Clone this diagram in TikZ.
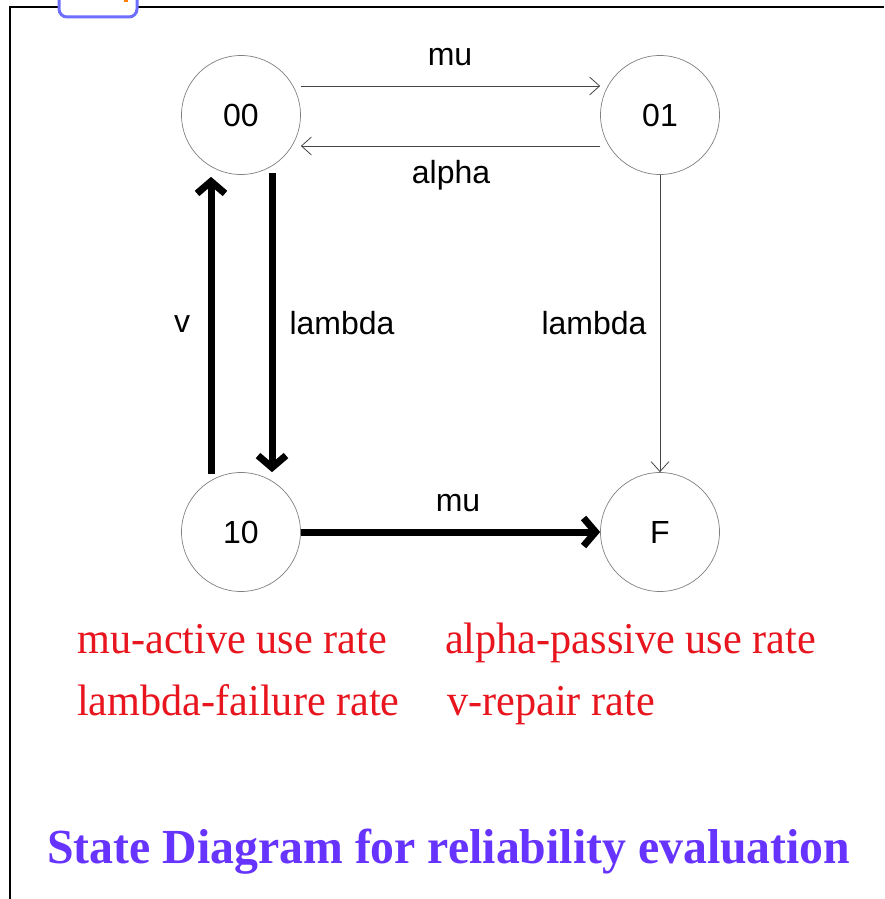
\documentclass[tikz,border=0pt]{standalone}
\usepackage{fontspec}
\usepackage{graphicx}
\setmainfont{Liberation Serif}
\newfontfamily\arialf{Liberation Sans}
\usetikzlibrary{arrows.meta}
\definecolor{legred}{RGB}{232,20,30}
\definecolor{titleblue}{RGB}{102,51,255}
\definecolor{boxblue}{RGB}{110,110,255}
\definecolor{thingray}{RGB}{70,70,70}
\newcommand{\legtxt}[1]{\scalebox{0.96}[1]{#1}}
\newcommand{\ttltxt}[1]{\scalebox{0.975}[1]{#1}}
\begin{document}
\begin{tikzpicture}[x=1pt,y=-1pt,
  state/.style={circle,draw=gray,line width=0.7pt,minimum size=119pt,inner sep=0pt,font=\arialf\fontsize{32}{38}\selectfont},
  thinarrow/.style={draw=thingray,line width=0.8pt,-{Straight Barb[length=10pt,width=18pt]}},
  thickarrow/.style={draw=black,line width=7pt,-{Straight Barb[length=12pt,width=28pt]}},
  lbl/.style={font=\arialf\fontsize{32}{38}\selectfont,inner sep=0pt},
  legend/.style={text=legred,font=\fontsize{44}{50}\selectfont,inner sep=0pt,anchor=base west},
  title/.style={text=titleblue,font=\bfseries\fontsize{49}{56}\selectfont,inner sep=0pt,anchor=base west}]
\useasboundingbox (0,0) rectangle (884,899);
\clip (0,0) rectangle (884,899);
\fill[white] (0,0) rectangle (884,899);
% frame
\draw[line width=2pt] (10,899) -- (10,7.5) -- (884,7.5);
\draw[boxblue,line width=3pt,rounded corners=8pt,fill=white] (59,-20) rectangle (137,17);
\fill[orange] (124,0) rectangle (128,2);
% states
\node[state] (n00) at (241,115) {00};
\node[state] (n01) at (660,115) {01};
\node[state] (n10) at (241,532) {10};
\node[state] (nF) at (660,532) {F};
% thin arrows
\draw[thinarrow] ([yshift=29pt]n00.east) -- ([yshift=29pt]n01.west);
\draw[thinarrow] ([yshift=-31pt]n01.west) -- ([yshift=-31pt]n00.east);
\draw[thinarrow] (n01.south) -- (nF.north);
% thick arrows
\draw[thickarrow] ([xshift=-30pt,yshift=-2pt]n10.north) -- ([xshift=-30pt,yshift=-2pt]n00.south);
\draw[thickarrow] ([xshift=31pt,yshift=2pt]n00.south) -- ([xshift=31pt]n10.north);
\draw[thickarrow] (n10.east) -- (nF.west);
% labels
\node[lbl] (lmu1) at (450,57) {mu};
\node[lbl] (lalpha) at (451,175) {alpha};
\node[lbl] (lv) at (182,324) {v};
\node[lbl] (llam1) at (342,323) {lambda};
\node[lbl] (llam2) at (594,323) {lambda};
\node[lbl] (lmu2) at (458,503) {mu};
% legend
\node[legend] (t1) at (77,653) {\legtxt{mu-active use rate}};
\node[legend] (t2) at (445,653) {\legtxt{alpha-passive use rate}};
\node[legend] (t3) at (77,715) {\legtxt{lambda-failure rate}};
\node[legend] (t4) at (447,715) {\legtxt{v-repair rate}};
\node[title] (tt) at (47,863) {\ttltxt{State Diagram for reliability evaluation}};
\end{tikzpicture}
\end{document}
